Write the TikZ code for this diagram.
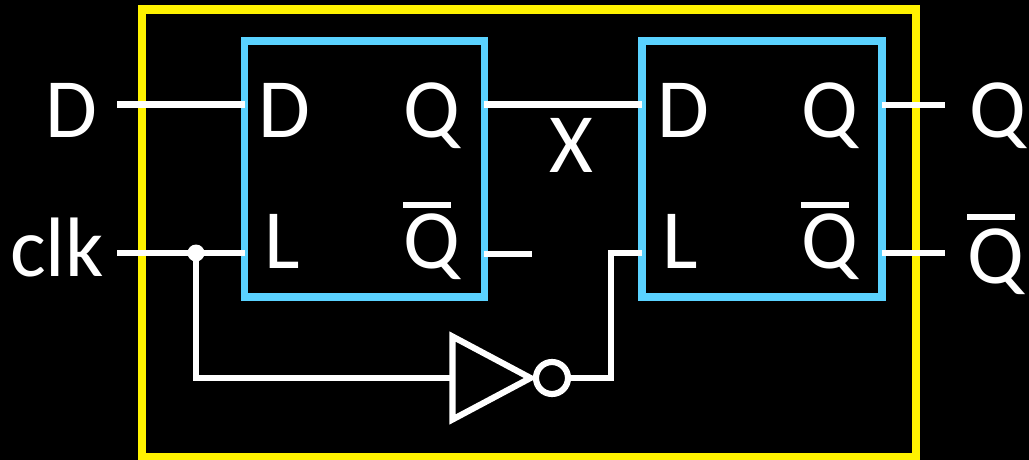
\documentclass[tikz,border=0pt]{standalone}
\usepackage{fontspec}
\setmainfont{Carlito}
\usetikzlibrary{positioning, shapes.geometric}

\newcommand{\Qbar}[1][34.2pt]{\leavevmode\rlap{\kern-0.2pt\raisebox{#1}{\rule{27pt}{3.2pt}}}Q}

\definecolor{latchblue}{HTML}{5AD2FF}
\tikzset{
  latch/.style={draw=latchblue, line width=4.3pt, minimum width=4.8cm, minimum height=5.11cm, outer sep=0pt, inner sep=0pt},
  wire/.style={draw=white, line width=3.5pt},
  pin/.style={text=white, font=\fontsize{48}{48}\selectfont, anchor=base, inner sep=0pt, outer sep=0pt}
}

\begin{document}
\begin{tikzpicture}[x=0.02cm, y=-0.02cm]
\useasboundingbox (0,0) rectangle (1029,460);
\fill[black] (0,0) rectangle (1029,460);
\draw[yellow, line width=4.6pt] (142,9.5) rectangle (916,457);

\node (latchA) [latch] at (364.5,169) {};
\node (latchB) [latch, right=3.15cm of latchA] {};

\node (inDlabel) [pin] at (71,137) {D};
\node (inClabel) [pin] at (57,276) {clk};
\node (dA) [pin] at (284,137) {D};
\node (qA) [pin] at (432,137) {Q};
\node (lA) [pin] at (282,268) {L};
\node (nA) [pin] at (432,268) {\Qbar};
\node (midX) [pin] at (571,172) {X};
\node (dB) [pin] at (683,137) {D};
\node (qB) [pin] at (830,137) {Q};
\node (lB) [pin] at (680,268) {L};
\node (nB) [pin] at (830,268) {\Qbar};
\node (outQ) [pin] at (998,137) {Q};
\node (outN) [pin] at (996,283) {\Qbar[36pt]};

\node (inv) [draw=white, line width=3.5pt, isosceles triangle, isosceles triangle stretches, minimum height=1.56cm, minimum width=1.66cm, inner sep=0pt, outer sep=0pt, anchor=lower side] at (452.5,378) {};
\node (bubble) [draw=white, line width=3.5pt, circle, minimum size=0.64cm, inner sep=0pt, outer sep=0pt] at (552,378) {};

\coordinate (inD) at (117,104.5);
\coordinate (inC) at (117,253);
\coordinate (stubA) at (532,254);
\coordinate (tapC) at (196,253);
\coordinate (bend) at (611,378);
\coordinate (endQ) at (945,105);
\coordinate (endN) at (945,253);

\draw[wire] (inD) -- (inD -| latchA.west);
\draw[wire] (inC) -- (inC -| latchA.west);
\draw[wire] (inD -| latchA.east) -- (inD -| latchB.west);
\draw[wire] (stubA -| latchA.east) -- (stubA);
\draw[wire] (endQ -| latchB.east) -- (endQ);
\draw[wire] (endN -| latchB.east) -- (endN);
\draw[wire] (tapC) |- (inv.lower side);
\draw[wire] (bubble) -- (bend) -- (bend |- inC) -- (inC -| latchB.west);
\fill[white] (tapC) circle (8.5);
\end{tikzpicture}
\end{document}
